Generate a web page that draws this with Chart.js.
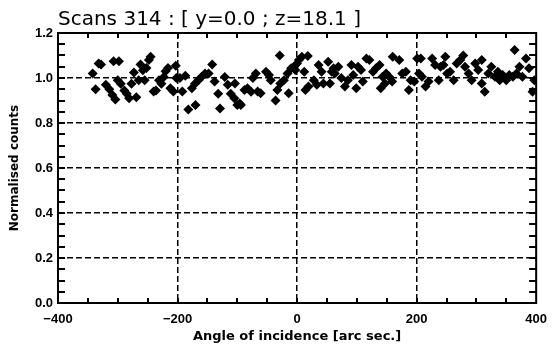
<!DOCTYPE html>
<html>
<head>
<meta charset="utf-8">
<script src="https://cdn.jsdelivr.net/npm/chart.js@4/dist/chart.umd.min.js"></script>
<style>
  body { margin: 0; background: #fff; }
  #wrap { width: 556px; height: 345px; }
</style>
</head>
<body>
<div id="wrap"><canvas id="grafica" width="556" height="345"></canvas></div>
<script>
// valores
const titulo = "Scans 314 : [ y=0.0 ; z=18.1 ]";
const xTicks = [-400, -200, 0, 200, 400];
const yTicks = [0.0, 0.2, 0.4, 0.6, 0.8, 1.0, 1.2];

const angulos = [
  -342, -337, -332, -328, -320, -314, -309, -304, -307, -298, -300, -295, -289, -285, -281, -277, -273, -269,
  -265, -262, -258, -255, -252, -248, -245, -240, -236, -231, -227, -223, -220, -216, -212, -207, -203, -202,
  -196, -187, -192, -182, -170, -176, -171, -165, -160, -154, -148, -142, -138, -132, -129, -121, -116, -111,
  -105, -100, -104, -96, -94, -88, -83, -77, -74, -69, -66, -61, -52, -47, -44, -36, -33, -29, -28, -22, -16,
  -14, -10, -5, -3, 0, 3, 8, 12, 18, 14, 19, 28, 33, 36, 41, 44, 52, 55, 58, 61, 63, 69, 74, 80, 85, 91, 94,
  99, 102, 107, 110, 116, 121, 127, 132, 138, 143, 149, 154, 160, 140, 147, 159, 171, 176, 182, 187, 190,
  196, 201, 207, 204, 209, 215, 220, 226, 231, 237, 240, 245, 248, 251, 256, 262, 267, 273, 278, 281, 287,
  292, 298, 303, 309, 309, 314, 320, 325, 331, 336, 339, 344, 350, 355, 361, 364, 367, 372, 377, 383, 388,
  394, 397
];
const cuentas = [
  1.02, 0.95, 1.065, 1.06, 0.97, 0.95, 0.925, 0.905, 1.075, 1.075, 0.99, 0.975, 0.945, 0.93, 0.91, 0.975, 1.025, 0.915,
  0.99, 1.06, 1.035, 0.99, 1.045, 1.08, 1.095, 0.94, 0.945, 0.99, 0.975, 1.005, 1.03, 1.045, 0.955, 0.94, 1.055, 1.0,
  1.0, 1.01, 0.94, 0.86, 0.88, 0.955, 0.975, 0.99, 1.005, 1.02, 1.02, 1.06, 0.985, 0.93, 0.865, 1.005, 0.97, 0.93,
  0.91, 0.88, 0.976, 0.887, 0.88, 0.947, 0.954, 0.939, 1.0, 1.02, 0.94, 0.932, 1.028, 1.013, 0.99, 0.90, 0.947, 1.10, 0.976, 0.99, 1.02,
  0.932, 1.043, 1.05, 1.036, 1.065, 1.08, 1.095, 1.028, 1.098, 0.947, 0.962, 0.99, 0.97, 1.058, 1.028, 0.976, 1.072, 0.976, 1.028, 1.043, 1.02, 1.05, 1.0, 0.962, 0.99, 1.058, 1.013,
  0.954, 1.05, 1.036, 0.984, 1.087, 1.08, 1.028, 1.043, 1.058, 1.006, 1.02, 1.006, 1.095, 0.954, 0.976, 0.984, 1.08, 1.02, 1.028, 0.947, 0.99,
  0.984, 1.087, 1.087, 1.02, 1.006, 0.962, 0.984, 1.087, 1.058, 0.99, 1.05, 1.058, 1.095, 1.02, 1.028, 0.99, 1.065, 1.08, 1.10, 1.05, 1.02,
  0.99, 1.065, 1.036, 1.08, 0.976, 0.939, 1.02, 1.05, 1.006, 1.028, 0.99, 1.013, 0.99, 1.013, 1.006, 1.124, 1.02, 1.05, 1.006, 1.087, 1.043,
  0.939, 0.99
];

const puntos = angulos.map((a, i) => ({ x: a, y: cuentas[i] }));

// marco y marcas menores hacia adentro (estilo IDL)
const marcoIDL = {
  id: "marcoIDL",
  afterDraw(chart) {
    const ctx = chart.ctx;
    const a = chart.chartArea;
    const sx = chart.scales.x;
    const sy = chart.scales.y;
    ctx.save();
    ctx.strokeStyle = "#000";
    ctx.lineWidth = 2;
    ctx.beginPath();
    for (let v = -350; v <= 350; v += 50) {
      const px = Math.round(sx.getPixelForValue(v));
      ctx.moveTo(px, a.bottom); ctx.lineTo(px, a.bottom - 5);
      ctx.moveTo(px, a.top); ctx.lineTo(px, a.top + 5);
    }
    for (let k = 1; k < 24; k++) {
      const py = Math.round(sy.getPixelForValue(k * 0.05));
      ctx.moveTo(a.left, py); ctx.lineTo(a.left + 7, py);
      ctx.moveTo(a.right, py); ctx.lineTo(a.right - 7, py);
    }
    ctx.stroke();
    ctx.strokeRect(a.left, a.top, a.right - a.left, a.bottom - a.top);
    ctx.restore();
  }
};

const esBorde = (v, lista) => v === lista[0] || v === lista[lista.length - 1];

new Chart(document.getElementById("grafica"), {
  type: "scatter",
  data: {
    datasets: [{
      data: puntos,
      pointStyle: "rectRot",
      pointRadius: 5,
      pointHoverRadius: 5,
      backgroundColor: "#000",
      borderColor: "#000",
      borderWidth: 0
    }]
  },
  options: {
    responsive: false,
    animation: false,
    layout: { padding: { left: 0, right: 14, top: 0, bottom: 0 } },
    plugins: {
      legend: { display: false },
      tooltip: { enabled: false },
      title: {
        display: true,
        text: titulo,
        align: "start",
        fullSize: false,
        color: "#000",
        font: { family: "DejaVu Sans", size: 20, weight: "normal", lineHeight: 1.1 },
        padding: { top: 9, bottom: 2 }
      }
    },
    scales: {
      x: {
        type: "linear",
        min: -400,
        max: 400,
        afterFit: (s) => { s.height = 42; },
        afterBuildTicks: (s) => { s.ticks = xTicks.map(v => ({ value: v })); },
        ticks: {
          color: "#000",
          padding: 9,
          maxRotation: 0,
          font: { family: "Liberation Sans", size: 13, weight: "bold" },
          callback: (v) => (v < 0 ? "\u2212" + Math.abs(v) : String(v))
        },
        grid: {
          drawTicks: false,
          lineWidth: 1.5,
          color: (c) => (esBorde(c.tick && c.tick.value, xTicks) ? "rgba(0,0,0,0)" : "#000")
        },
        border: { display: false, dash: [6, 3] },
        title: {
          display: true,
          text: "Angle of incidence [arc sec.]",
          color: "#000",
          font: { family: "DejaVu Sans", size: 13, weight: "bold" },
          padding: { top: 0, bottom: 1 }
        }
      },
      y: {
        min: 0,
        max: 1.2,
        afterFit: (s) => { s.width = 58; },
        afterBuildTicks: (s) => { s.ticks = yTicks.map(v => ({ value: v })); },
        ticks: {
          color: "#000",
          padding: 5,
          font: { family: "Liberation Sans", size: 13, weight: "bold" },
          callback: (v) => v.toFixed(1)
        },
        grid: {
          drawTicks: false,
          lineWidth: 1.5,
          color: (c) => (esBorde(c.tick && c.tick.value, yTicks) ? "rgba(0,0,0,0)" : "#000")
        },
        border: { display: false, dash: [6, 3] },
        title: {
          display: true,
          text: "Normalised counts",
          color: "#000",
          font: { family: "DejaVu Sans", size: 12, weight: "bold" },
          padding: { top: 8, bottom: 0 }
        }
      }
    }
  },
  plugins: [marcoIDL]
});
</script>
</body>
</html>
